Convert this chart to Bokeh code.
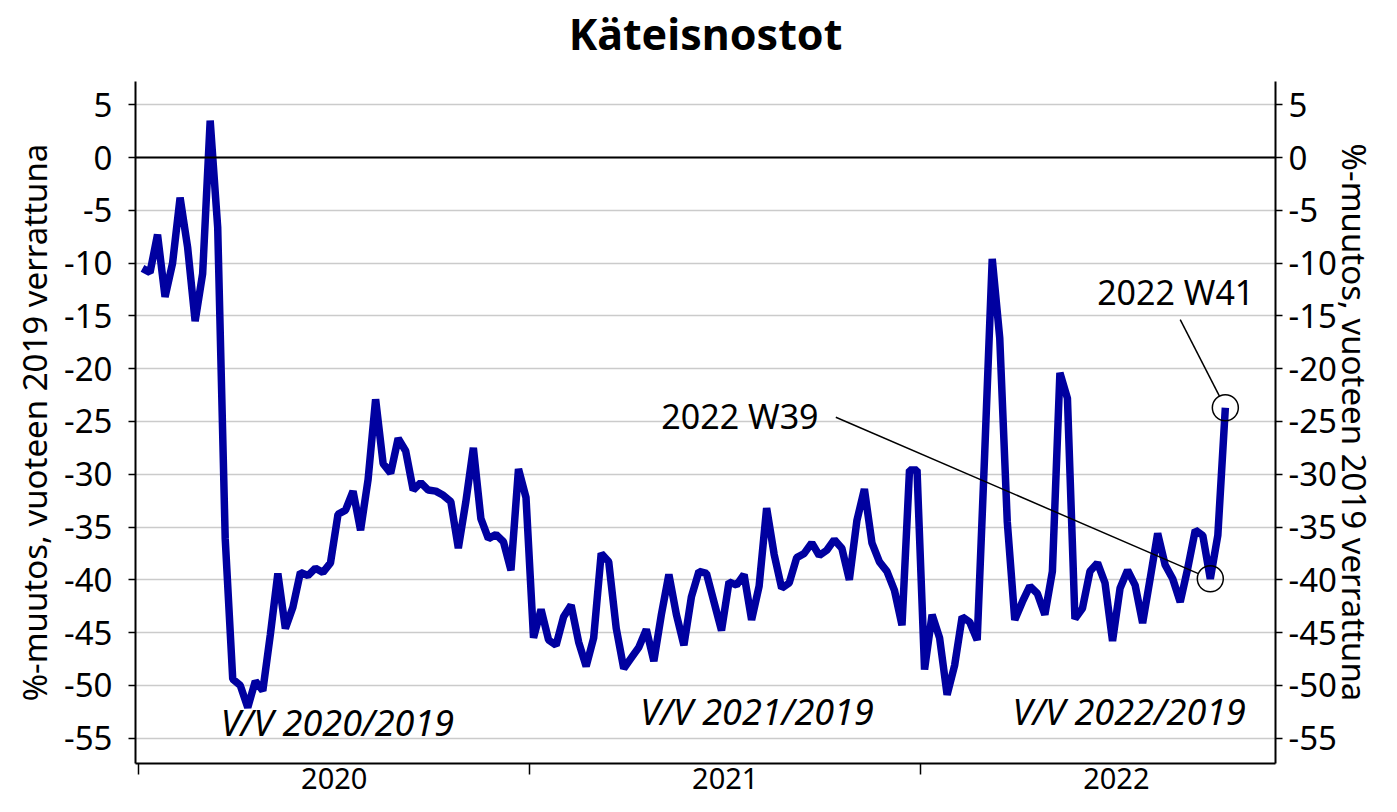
import math
from bokeh.plotting import figure
from bokeh.models import Range1d, LinearAxis, FixedTicker, Label, Span
from bokeh.embed import file_html
from bokeh.resources import INLINE

# ---------------- data ----------------
chart_title = "Käteisnostot"
y_label = "%-muutos, vuoteen 2019 verrattuna"
years = ["2020", "2021", "2022"]
weeks_per_year = 52
vals_2020 = [-10.5, -10.9, -7.3, -13.2, -10.0, -3.8, -8.5, -15.5, -11.0, 3.5,
             -6.6, -36.1, -49.4, -50.0, -52.1, -49.6, -50.5, -45.2, -39.4, -44.6,
             -42.6, -39.3, -39.6, -38.9, -39.3, -38.4, -33.8, -33.4, -31.6, -35.3,
             -30.5, -22.9, -29.0, -29.9, -26.6, -27.8, -31.5, -30.8, -31.5, -31.6,
             -32.0, -32.6, -37.0, -32.6, -27.5, -34.2, -36.1, -35.7, -36.4, -39.1,
             -29.5, -32.2]
vals_2021 = [-45.5, -42.8, -45.7, -46.2, -43.5, -42.4, -45.9, -48.2, -45.5, -37.5,
             -38.3, -44.6, -48.4, -47.4, -46.4, -44.7, -47.7, -43.3, -39.5, -43.3,
             -46.2, -41.6, -39.2, -39.4, -42.1, -44.8, -40.2, -40.5, -39.5, -43.8,
             -40.6, -33.2, -37.6, -40.8, -40.3, -37.9, -37.5, -36.5, -37.7, -37.2,
             -36.2, -37.0, -40.0, -34.4, -31.4, -36.5, -38.3, -39.2, -41.0, -44.3,
             -29.6, -29.6]
vals_2022 = [-48.5, -43.3, -45.5, -50.9, -48.1, -43.5, -44.0, -45.7, -28.0, -9.6,
             -17.1, -34.5, -43.8, -42.1, -40.6, -41.3, -43.3, -39.2, -20.4, -22.8,
             -43.7, -42.7, -39.2, -38.4, -40.3, -45.8, -40.8, -39.1, -40.5, -44.1,
             -39.9, -35.6, -38.6, -39.9, -42.1, -38.9, -35.3, -35.8, -39.9, -35.8,
             -23.7]
y_ticks = list(range(-55, 6, 5))
y_tick_labels = {t: str(t) for t in y_ticks}
period_labels = ["V/V 2020/2019", "V/V 2021/2019", "V/V 2022/2019"]
callout_year = 2022
callout_weeks = [39, 41]

# ---------------- build series ----------------
series = [vals_2020, vals_2021, vals_2022]
xs, ys = [], []
for k, vals in enumerate(series):
    for w, v in enumerate(vals):
        xs.append(k * weeks_per_year + w)
        ys.append(v)

X0, X1 = -0.93, 150.67
Y0, Y1 = -57.4, 7.2
W, H = 1381, 796
BL, BR, BT, BB = 135, 106, 80, 33
SX = (W - BL - BR) / (X1 - X0)
SY = (H - BT - BB) / (Y1 - Y0)

FONT = "Noto Sans"
FS = "33px"

p = figure(width=W, height=H, output_backend="svg", toolbar_location=None,
           x_range=Range1d(X0, X1), y_range=Range1d(Y0, Y1),
           min_border_left=BL, min_border_right=BR, min_border_top=BT,
           min_border_bottom=BB, background_fill_color="white",
           border_fill_color="white")
p.outline_line_color = None
p.xgrid.visible = False
p.ygrid.ticker = FixedTicker(ticks=y_ticks)
p.ygrid.grid_line_color = "#cbcbcb"
p.ygrid.grid_line_width = 1.5

def style_y(ax, label_standoff, axis_label_standoff):
    ax.ticker = FixedTicker(ticks=y_ticks)
    ax.major_label_overrides = y_tick_labels
    ax.axis_line_color = "black"
    ax.axis_line_width = 2
    ax.major_tick_line_color = "black"
    ax.major_tick_line_width = 1.5
    ax.major_tick_in = 0
    ax.major_tick_out = 7
    ax.minor_tick_line_color = None
    ax.major_label_text_font = FONT
    ax.major_label_text_font_size = FS
    ax.major_label_text_color = "black"
    ax.major_label_standoff = label_standoff
    ax.axis_label = y_label
    ax.axis_label_text_font = FONT
    ax.axis_label_text_font_size = FS
    ax.axis_label_text_font_style = "normal"
    ax.axis_label_text_color = "black"
    ax.axis_label_standoff = axis_label_standoff

style_y(p.left[0], 16, 4)
ry = LinearAxis()
style_y(ry, 6, -8)
p.add_layout(ry, "right")

xa = p.below[0]
bounds = [k * weeks_per_year - 0.5 for k in range(len(years))]
centers = [k * weeks_per_year + 25.5 for k in range(len(years))]
xa.ticker = FixedTicker(ticks=centers, minor_ticks=bounds)
xa.major_label_overrides = {c: y for c, y in zip(centers, years)}
xa.axis_line_color = "black"
xa.axis_line_width = 2
xa.major_tick_line_color = None
xa.major_tick_in = 0
xa.major_tick_out = 0
xa.minor_tick_line_color = "black"
xa.minor_tick_line_width = 1.5
xa.minor_tick_in = 0
xa.minor_tick_out = 11
xa.major_label_standoff = -7
xa.major_label_text_font = FONT
xa.major_label_text_font_size = "29px"
xa.major_label_text_color = "black"

# title drawn as the label of an otherwise empty top axis (precise placement)
ta = LinearAxis(ticker=FixedTicker(ticks=[]))
ta.axis_line_color = None
ta.major_tick_line_color = None
ta.minor_tick_line_color = None
ta.major_tick_out = 0
ta.major_tick_in = 0
ta.minor_tick_out = 0
ta.minor_tick_in = 0
ta.major_label_standoff = 0
ta.major_label_text_font_size = "0px"
ta.axis_label = chart_title
ta.axis_label_text_font = FONT
ta.axis_label_text_font_size = "43px"
ta.axis_label_text_font_style = "bold"
ta.axis_label_text_color = "black"
ta.axis_label_standoff = 19
p.add_layout(ta, "above")

p.add_layout(Span(location=0, dimension="width", line_color="black", line_width=2))

p.line(xs, ys, line_color="#0000a0", line_width=7.5)

# period labels
period_pos = [(10.4, -53.5), (66.2, -52.5), (115.7, -52.5)]
for (px, py), t in zip(period_pos, period_labels):
    p.add_layout(Label(x=px, y=py, text=t, text_font=FONT, text_font_size="36px",
                       text_font_style="italic", text_color="black",
                       text_align="left", text_baseline="middle"))

# callouts
yr_idx = years.index(str(callout_year))
cx = [yr_idx * weeks_per_year + w - 1 for w in callout_weeks]
cy = [series[yr_idx][w - 1] for w in callout_weeks]
anchors = [(92.2, -24.6), (138.0, -15.35)]
text_pos = [(89.9, -24.5, "right"), (137.4, -12.7, "center")]
R = 13
x0s, y0s, x1s, y1s = [], [], [], []
for (ax_, ay_), c_x, c_y in zip(anchors, cx, cy):
    dxp = (ax_ - c_x) * SX
    dyp = (ay_ - c_y) * SY
    d = math.hypot(dxp, dyp)
    x0s.append(ax_); y0s.append(ay_)
    x1s.append(c_x + dxp / d * R / SX); y1s.append(c_y + dyp / d * R / SY)
p.segment(x0s, y0s, x1s, y1s, line_color="black", line_width=1.5)
p.scatter(cx, cy, marker="circle", size=2 * R, fill_color=None,
          line_color="black", line_width=1.5)
for (tx, ty, al), w in zip(text_pos, callout_weeks):
    p.add_layout(Label(x=tx, y=ty, text=f"{callout_year} W{w}", text_font=FONT,
                       text_font_size="34px", text_color="black", text_align=al,
                       text_baseline="middle"))

open("out.html", "w").write(file_html(p, INLINE))
